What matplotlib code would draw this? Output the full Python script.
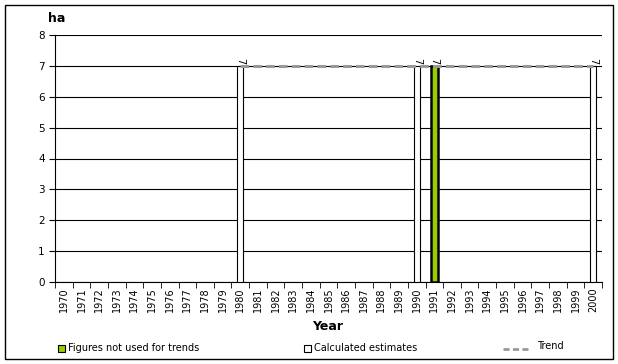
import numpy as np
import matplotlib.pyplot as plt
from matplotlib.patches import Rectangle
from matplotlib.lines import Line2D

years = list(range(1970, 2001))
estimate_years = [1980, 1990, 2000]
estimate_values = [7, 7, 7]
not_used_years = [1991]
not_used_values = [7]
trend_years = [1980, 2000]
trend_values = [7, 7]

fig = plt.figure(figsize=(6.18, 3.64), dpi=100)
W, H = 618, 364
ax = fig.add_axes([55 / W, 1 - 282 / H, 547 / W, 247 / H])

idx = {y: i for i, y in enumerate(years)}
xe = [idx[y] for y in estimate_years]
xn = [idx[y] for y in not_used_years]
xt = [idx[y] for y in trend_years]

ax.bar(xe, estimate_values, width=0.34, color='white', edgecolor='black', linewidth=0.8, zorder=3)
ax.bar(xn, not_used_values, width=0.42, color='#99cc00', edgecolor='black', linewidth=1.8, zorder=3)
ax.plot(xt, trend_values, color='#999999', linestyle=(0, (2.8, 1.4)), linewidth=2.2,
        solid_capstyle='butt', dash_capstyle='butt', zorder=5)

for x, v in list(zip(xe, estimate_values)) + list(zip(xn, not_used_values)):
    ax.text(x, v + 0.05, str(v), rotation=270, ha='center', va='bottom', fontsize=7)

ax.set_xlim(-0.5, len(years) - 0.5)
ax.set_ylim(0, 8)
ax.set_yticks(range(0, 9))
ax.yaxis.grid(True, color='black', linewidth=0.8)
ax.set_axisbelow(True)
ax.set_xticks(range(len(years)))
ax.set_xticklabels([str(y) for y in years], rotation=90, fontsize=7)
ax.set_xticks(np.arange(-0.5, len(years)), minor=True)
ax.tick_params(axis='x', which='major', length=0, pad=4)
ax.tick_params(axis='x', which='minor', length=4, direction='out')
ax.tick_params(axis='y', length=4, direction='out', labelsize=7.5)
for s in ['top', 'right']:
    ax.spines[s].set_visible(False)
ax.spines['left'].set_linewidth(0.8)
ax.spines['bottom'].set_linewidth(0.8)

fig.text(48 / W, 1 - 18 / H, 'ha', fontsize=9, fontweight='bold', ha='left', va='center')
fig.text(328 / W, 1 - 326 / H, 'Year', fontsize=9, fontweight='bold', ha='center', va='center')

# legend
lx1 = 58 / W
ly = 1 - 348 / H
fig.patches.append(Rectangle((lx1, ly - 3.5 / H), 7 / W, 7 / H, transform=fig.transFigure,
                             facecolor='#99cc00', edgecolor='black', linewidth=0.8))
fig.text(lx1 + 10 / W, ly, 'Figures not used for trends', fontsize=7, va='center')
lx2 = 304 / W
fig.patches.append(Rectangle((lx2, ly - 3.5 / H), 7 / W, 7 / H, transform=fig.transFigure,
                             facecolor='white', edgecolor='black', linewidth=0.8))
fig.text(lx2 + 10 / W, ly, 'Calculated estimates', fontsize=7, va='center')
fig.lines.append(Line2D([503 / W, 529 / W], [1 - 349 / H, 1 - 349 / H], transform=fig.transFigure,
                        color='#999999', linestyle=(0, (2.2, 1.2)), linewidth=2, dash_capstyle='butt'))
fig.text(537 / W, 1 - 346 / H, 'Trend', fontsize=7, va='center')

# outer frame
fig.patches.append(Rectangle((5 / W, 1 - 359 / H), 608 / W, 354 / H, transform=fig.transFigure,
                             facecolor='none', edgecolor='black', linewidth=1))

fig.savefig('out.png', dpi=100)
